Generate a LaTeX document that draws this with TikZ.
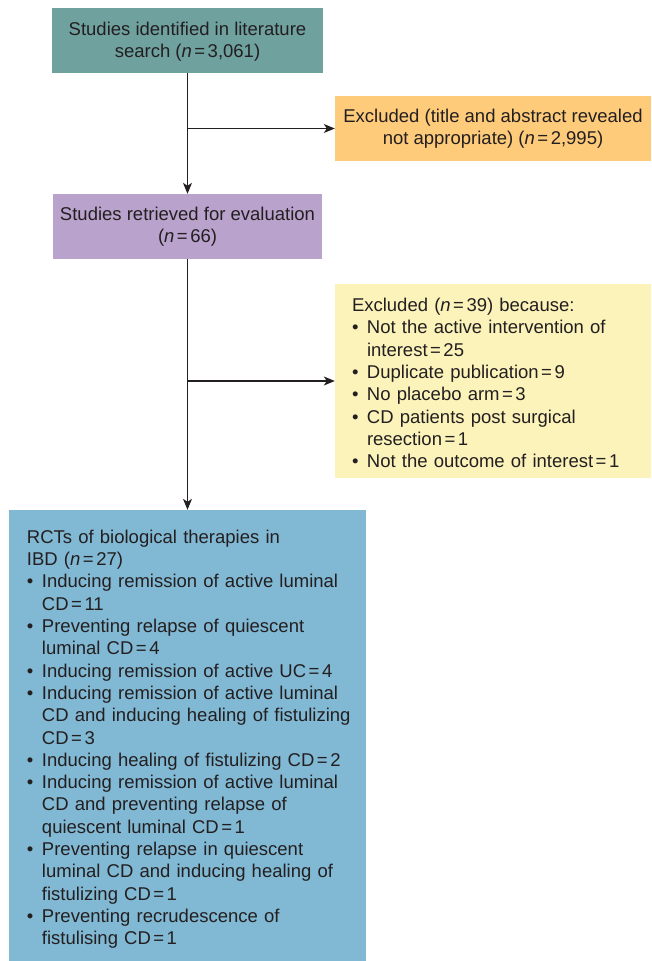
\documentclass[tikz,border=0pt]{standalone}
\usepackage{fontspec}
\setmainfont{Liberation Sans}
\usetikzlibrary{arrows.meta}
\definecolor{tealbox}{HTML}{6FA19E}
\definecolor{orangebox}{HTML}{FECB7B}
\definecolor{purplebox}{HTML}{B9A3CC}
\definecolor{yellowbox}{HTML}{FBF3BA}
\definecolor{bluebox}{HTML}{81B8D3}
\definecolor{ink}{HTML}{231F20}
\newcommand\eqs{\kern2.5pt=\kern2.5pt}
\newcommand\nn{\textit{n}\eqs}
\newcommand\itm[1]{\mbox{\makebox[15pt][l]{\textbullet}#1}}
\newcommand\cnt[1]{\mbox{\hspace*{15pt}#1}}
\begin{document}
\begin{tikzpicture}[x=1pt,y=-1pt,
  box/.style={draw=none, inner xsep=0pt, inner ysep=0pt, align=center,
    text=ink, font=\fontsize{18.5}{22.3}\selectfont},
  listbox/.style={draw=none, inner ysep=0pt, align=left,
    text=ink, font=\fontsize{18.5}{22.3}\selectfont},
  arr/.style={draw=ink, line width=1.1pt, -{Stealth[length=11pt,width=9pt,inset=3pt]}}
]
\useasboundingbox (0,0) rectangle (651,961);
\node[box, fill=tealbox, minimum width=271pt, minimum height=65pt] (teal) at (187.5,40.5)
  {\rule{0pt}{15.5pt}Studies identified in literature\\search (\nn3,061)};
\node[box, fill=orangebox, minimum width=316pt, minimum height=65pt] (orange) at (493,128.5)
  {Excluded (title and abstract revealed\\not appropriate) (\nn2,995)};
\node[box, fill=purplebox, minimum width=269pt, minimum height=65pt] (purple) at (187.5,226.5)
  {Studies retrieved for evaluation\\(\nn66)};
\node[listbox, fill=yellowbox, inner xsep=17pt, text width=282pt, minimum height=194pt] (yellow) at (493,381)
  {\mbox{\rule{0pt}{17.5pt}Excluded (\nn39) because:}\\
   \itm{Not the active intervention of}\\
   \cnt{interest\eqs25}\\
   \itm{Duplicate publication\eqs9}\\
   \itm{No placebo arm\eqs3}\\
   \itm{CD patients post surgical}\\
   \cnt{resection\eqs1}\\
   \itm{Not the outcome of interest\eqs1}};
\node[listbox, fill=bluebox, inner xsep=18pt, text width=321pt, minimum height=451pt] (blue) at (187.5,735.5)
  {\mbox{\rule{0pt}{21pt}RCTs of biological therapies in}\\
   \mbox{IBD (\nn27)}\\
   \itm{Inducing remission of active luminal}\\
   \cnt{CD\eqs11}\\
   \itm{Preventing relapse of quiescent}\\
   \cnt{luminal CD\eqs4}\\
   \itm{Inducing remission of active UC\eqs4}\\
   \itm{Inducing remission of active luminal}\\
   \cnt{CD and inducing healing of fistulizing}\\
   \cnt{CD\eqs3}\\
   \itm{Inducing healing of fistulizing CD\eqs2}\\
   \itm{Inducing remission of active luminal}\\
   \cnt{CD and preventing relapse of}\\
   \cnt{quiescent luminal CD\eqs1}\\
   \itm{Preventing relapse in quiescent}\\
   \cnt{luminal CD and inducing healing of}\\
   \cnt{fistulizing CD\eqs1}\\
   \itm{Preventing recrudescence of}\\
   \cnt{fistulising CD\eqs1}};
\coordinate (j1) at (teal.south |- orange.west);
\coordinate (j2) at (purple.south |- yellow.west);
\draw[arr] (teal.south) -- (purple.north);
\draw[arr] (j1) -- (orange.west);
\draw[arr] (purple.south) -- (blue.north);
\draw[arr] (j2) -- (yellow.west);
\end{tikzpicture}
\end{document}
